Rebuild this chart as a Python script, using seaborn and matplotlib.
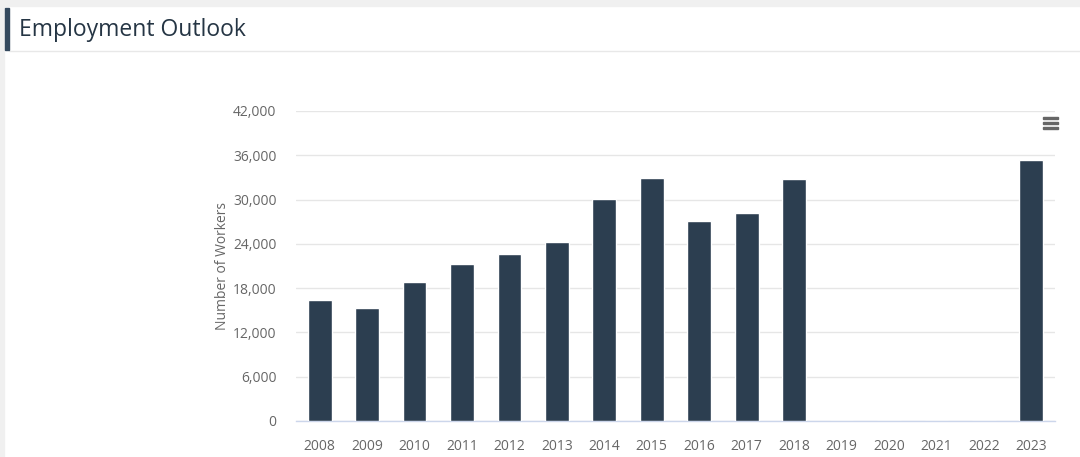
import matplotlib
matplotlib.use('Agg')
import matplotlib.pyplot as plt
import matplotlib.patches as mpatches
import seaborn as sns
import pandas as pd
from matplotlib.ticker import FuncFormatter, MultipleLocator

# Dados
years = [str(y) for y in range(2008, 2024)]
workers = [16400, 15300, 18800, 21300, 22600, 24300, 30100, 32900,
           27100, 28200, 32800, 0, 0, 0, 0, 35400]

df = pd.DataFrame({'year': years, 'workers': workers})

sns.set_theme(style='white')
plt.rcParams['font.family'] = ['Open Sans', 'DejaVu Sans']

fig = plt.figure(figsize=(10.8, 4.57), dpi=100)
fig.patch.set_facecolor('white')

# Moldura da página
fig.patches.append(mpatches.Rectangle((0, 1 - 6 / 457), 1, 6 / 457, transform=fig.transFigure,
                                      color='#f0f0f0', zorder=0))
fig.patches.append(mpatches.Rectangle((0, 0), 4 / 1080, 1, transform=fig.transFigure,
                                      color='#f0f0f0', zorder=0))
fig.patches.append(mpatches.Rectangle((5 / 1080, 1 - 50 / 457), 4 / 1080, 42 / 457,
                                      transform=fig.transFigure, color='#34495e', zorder=2))
fig.add_artist(plt.Line2D([9 / 1080, 1], [1 - 51 / 457, 1 - 51 / 457], transform=fig.transFigure,
                          color='#e8e8e8', linewidth=1))
fig.text(19 / 1080, 1 - 30 / 457, 'Employment Outlook', fontsize=16.5, color='#253544',
         va='center', ha='left', fontweight='medium')

ax = fig.add_axes([296 / 1080, 36 / 457, 759 / 1080, 310 / 457])
sns.barplot(data=df, x='year', y='workers', color='#2c3e50', width=0.5,
            saturation=1, ax=ax, zorder=3)

ax.set_ylim(0, 42000)
ax.set_xlim(-0.5, len(years) - 0.5)
ax.yaxis.set_major_locator(MultipleLocator(6000))
ax.yaxis.set_major_formatter(FuncFormatter(lambda v, p: f'{int(v):,}'))
ax.grid(axis='y', color='#e6e6e6', linewidth=1, zorder=0)
ax.set_axisbelow(True)

for s in ['top', 'right', 'left']:
    ax.spines[s].set_visible(False)
ax.spines['bottom'].set_color('#ccd6eb')
ax.spines['bottom'].set_linewidth(1)

ax.tick_params(axis='x', colors='#ccd6eb', length=10, width=1, direction='out',
               labelcolor='#666666', labelsize=10, pad=3)
ax.tick_params(axis='y', length=0, labelcolor='#666666', labelsize=10, pad=14)
ax.set_xlabel('')
ax.set_ylabel('Number of Workers', color='#666666', fontsize=10, labelpad=2)

# Ícone de menu
for dy in [118, 123, 128]:
    fig.patches.append(mpatches.Rectangle((1043 / 1080, 1 - (dy + 1) / 457), 15 / 1080, 2 / 457,
                                          transform=fig.transFigure, color='#666666', zorder=5))

fig.savefig('out.png', dpi=100)
